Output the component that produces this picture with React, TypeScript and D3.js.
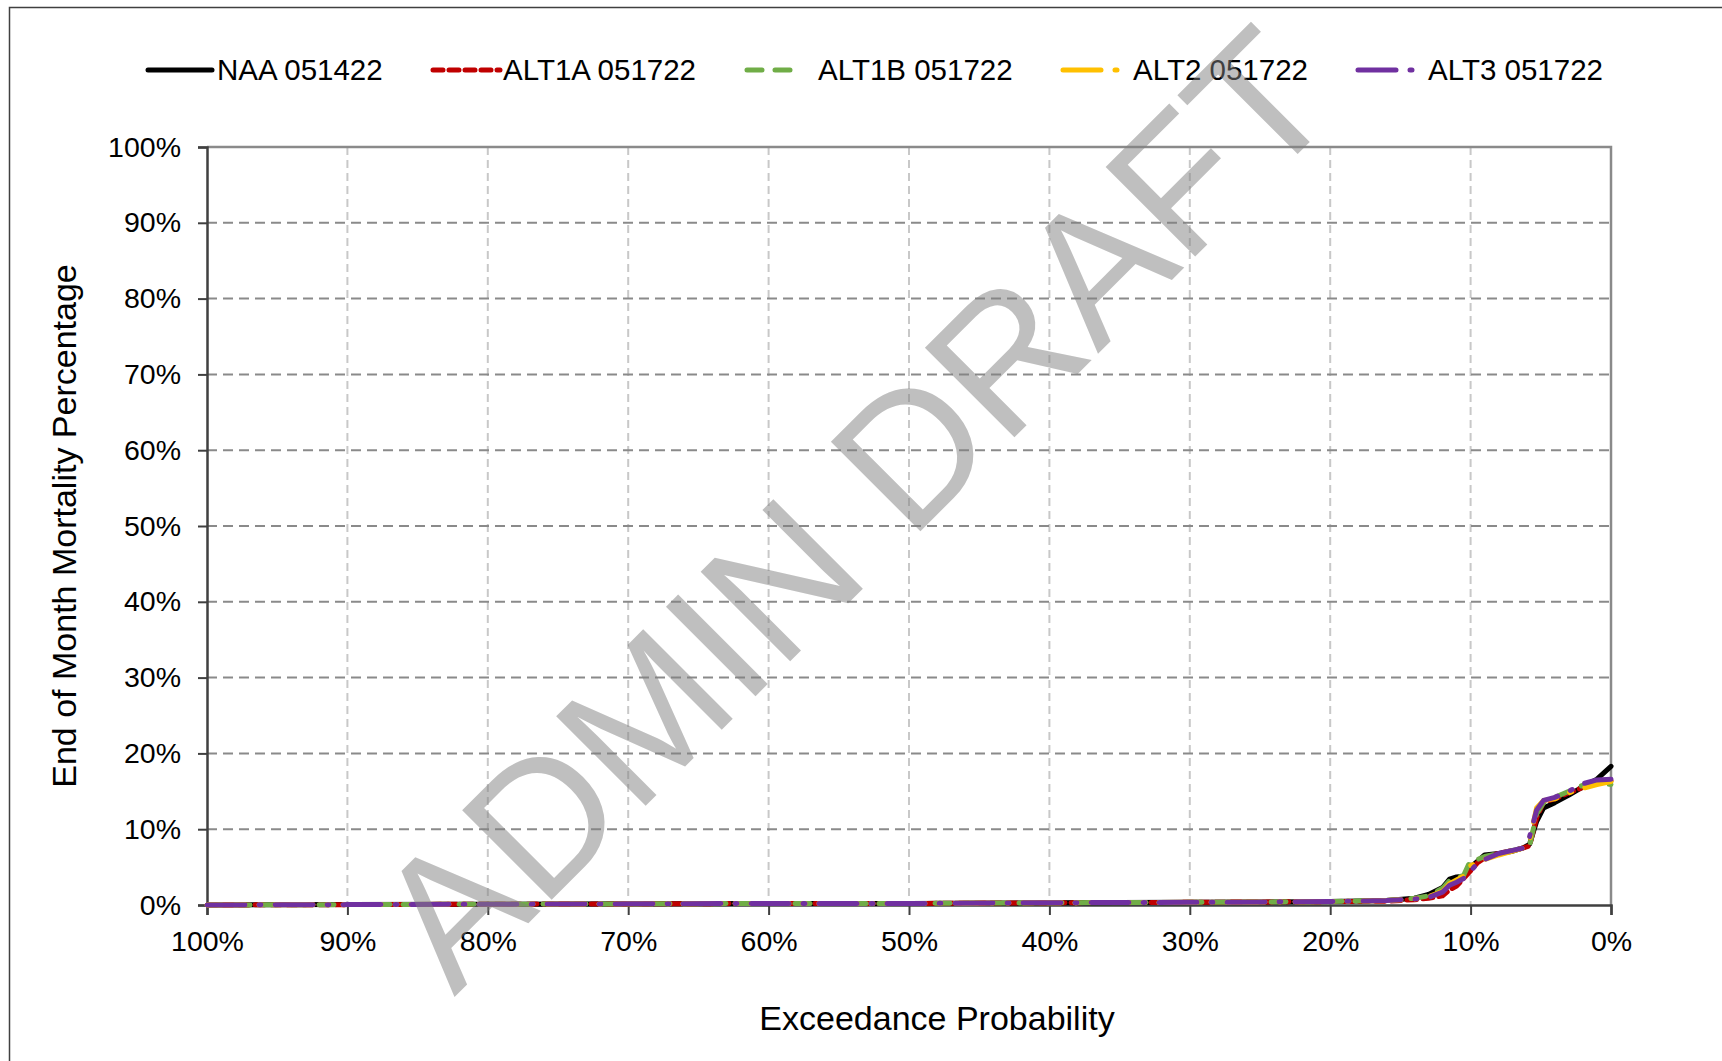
import React, { useEffect, useRef } from "react";
import * as d3 from "d3";

// exceedance probability (%) shared by every series
const exceedance = [100, 90, 80, 70, 60, 50, 40, 30, 20, 16, 14, 13, 12, 11.5, 11, 10.5, 10, 9.5, 9, 8, 7, 6.3, 5.8, 5.3, 4.8, 4, 3, 2, 1, 0];

const naa = [0, 0.05, 0.1, 0.15, 0.2, 0.2, 0.3, 0.35, 0.45, 0.6, 0.9, 1.4, 2.3, 3.4, 3.7, 3.8, 5.0, 5.8, 6.6, 6.8, 7.1, 7.5, 8.0, 11.0, 12.8, 13.5, 14.5, 15.6, 16.6, 18.3];
const alt1a = [0, 0.05, 0.1, 0.15, 0.2, 0.2, 0.3, 0.35, 0.45, 0.5, 0.7, 0.9, 1.2, 2.0, 2.5, 3.5, 4.5, 5.6, 6.2, 6.8, 7.2, 7.5, 7.8, 11.5, 13.6, 14.0, 14.8, 15.5, 16.0, 16.4];
const alt1b = [0, 0.05, 0.1, 0.15, 0.2, 0.2, 0.3, 0.35, 0.45, 0.6, 0.9, 1.2, 2.2, 3.2, 3.6, 3.9, 5.9, 6.0, 6.4, 6.8, 7.2, 7.5, 7.8, 12.0, 13.5, 14.2, 15.0, 15.8, 16.0, 15.9];
const alt2 = [0, 0.05, 0.1, 0.15, 0.2, 0.2, 0.3, 0.35, 0.45, 0.6, 0.8, 1.1, 1.8, 2.8, 3.3, 3.8, 5.2, 5.6, 6.0, 6.6, 7.1, 7.5, 8.5, 12.8, 13.8, 14.0, 14.8, 15.4, 15.9, 16.3];
const alt3 = [0, 0.05, 0.1, 0.15, 0.2, 0.2, 0.3, 0.35, 0.45, 0.6, 0.8, 1.0, 1.7, 2.6, 3.0, 3.5, 4.5, 5.5, 6.0, 6.8, 7.2, 7.5, 9.0, 12.5, 13.8, 14.2, 15.0, 16.0, 16.5, 16.6];

const seriesNames = ["NAA 051422", "ALT1A 051722", "ALT1B 051722", "ALT2 051722", "ALT3 051722"];
const seriesValues = [naa, alt1a, alt1b, alt2, alt3];
const seriesColors = ["#000000", "#c00000", "#70ad47", "#ffc000", "#7030a0"];
const seriesDash = ["none", "10,6", "15,13", "38,14,2,14", "38,14,2,14"];

const xTicks = [100, 90, 80, 70, 60, 50, 40, 30, 20, 10, 0];
const yTicks = [0, 10, 20, 30, 40, 50, 60, 70, 80, 90, 100];

const W = 1722;
const H = 1061;

// legend sample line start, end and label start (px)
const legendLine = [[148, 212], [433, 500], [747, 801], [1063, 1119], [1358, 1414]];
const legendText = [217, 503, 818, 1133, 1428];

export default function App() {
  const ref = useRef<SVGSVGElement>(null);

  useEffect(() => {
    const svg = d3.select(ref.current);
    svg.selectAll("*").remove();

    const left = 207, right = 1611, top = 147, bottom = 905;
    const x = d3.scaleLinear().domain([100, 0]).range([left, right]);
    const y = d3.scaleLinear().domain([0, 100]).range([bottom, top]);
    const font = "Liberation Sans, Arial, sans-serif";

    // outer frame
    svg.append("rect")
      .attr("x", 9.5).attr("y", 7.5)
      .attr("width", W + 10).attr("height", H + 10)
      .attr("fill", "none").attr("stroke", "#404040").attr("stroke-width", 1.5);

    // vertical grid
    svg.append("g").selectAll("line")
      .data(xTicks.filter(d => d !== 100 && d !== 0))
      .enter().append("line")
      .attr("x1", d => x(d)).attr("x2", d => x(d))
      .attr("y1", top).attr("y2", bottom)
      .attr("stroke", "#c8c8c8").attr("stroke-width", 2)
      .attr("stroke-dasharray", "8,5");

    // horizontal grid
    svg.append("g").selectAll("line")
      .data(yTicks.filter(d => d !== 0 && d !== 100))
      .enter().append("line")
      .attr("x1", left).attr("x2", right)
      .attr("y1", d => y(d)).attr("y2", d => y(d))
      .attr("stroke", "#8a8a8a").attr("stroke-width", 2)
      .attr("stroke-dasharray", "10,6");

    // plot border top/right
    svg.append("path")
      .attr("d", `M${left},${top}H${right}V${bottom}`)
      .attr("fill", "none").attr("stroke", "#8a8a8a").attr("stroke-width", 2.5);

    // axes
    const xAxis = svg.append("g")
      .attr("transform", `translate(0,${bottom})`)
      .call(d3.axisBottom(x).tickValues(xTicks).tickSize(10).tickPadding(16).tickFormat(d => d + "%"));
    const yAxis = svg.append("g")
      .attr("transform", `translate(${left},0)`)
      .call(d3.axisLeft(y).tickValues(yTicks).tickSize(9).tickPadding(17).tickFormat(d => d + "%"));
    [xAxis, yAxis].forEach(a => {
      a.select(".domain").attr("stroke", "#404040").attr("stroke-width", 2.5);
      a.selectAll(".tick line").attr("stroke", "#404040").attr("stroke-width", 2);
      a.selectAll("text").attr("font-family", font).attr("font-size", 28.5).attr("fill", "#000");
    });
    xAxis.selectAll("text").attr("dy", "0.71em");

    // series
    const line = d3.line<number>()
      .x((d, i) => x(exceedance[i]))
      .y(d => y(d));
    seriesValues.forEach((vals, k) => {
      svg.append("path")
        .datum(vals)
        .attr("d", line)
        .attr("fill", "none")
        .attr("stroke", seriesColors[k])
        .attr("stroke-width", 5)
        .attr("stroke-linecap", "round")
        .attr("stroke-linejoin", "round")
        .attr("stroke-dasharray", seriesDash[k]);
    });

    // legend
    const legend = svg.append("g").attr("transform", "translate(0,70)");
    seriesNames.forEach((name, k) => {
      legend.append("line")
        .attr("x1", legendLine[k][0]).attr("x2", legendLine[k][1])
        .attr("y1", 0).attr("y2", 0)
        .attr("stroke", seriesColors[k]).attr("stroke-width", 5)
        .attr("stroke-linecap", "round")
        .attr("stroke-dasharray", seriesDash[k]);
      legend.append("text")
        .attr("x", legendText[k])
        .attr("y", 0).attr("dy", "0.35em")
        .attr("font-family", font).attr("font-size", 29.5)
        .attr("fill", "#000")
        .text(name);
    });

    // axis titles
    svg.append("text")
      .attr("x", 937).attr("y", 1018).attr("dy", "0.35em")
      .attr("text-anchor", "middle")
      .attr("font-family", font).attr("font-size", 34)
      .text("Exceedance Probability");
    svg.append("text")
      .attr("transform", "translate(64,526) rotate(-90)")
      .attr("dy", "0.35em")
      .attr("text-anchor", "middle")
      .attr("font-family", font).attr("font-size", 34)
      .text("End of Month Mortality Percentage");

    // watermark
    svg.append("text")
      .attr("transform", "translate(852,506) rotate(-45)")
      .attr("text-anchor", "middle")
      .attr("dy", "0.36em")
      .attr("font-family", font).attr("font-size", 184)
      .attr("fill", "rgba(128,128,128,0.5)")
      .text("ADMIN DRAFT");
  }, []);

  return (
    <svg ref={ref} width={W} height={H}
      style={{ position: "absolute", left: 0, top: 0, background: "#fff" }} />
  );
}
